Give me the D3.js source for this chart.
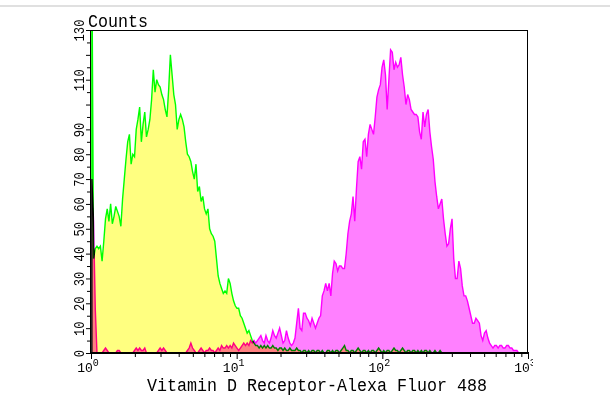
<!DOCTYPE html>
<html>
<head>
<meta charset="utf-8">
<script src="https://cdn.jsdelivr.net/npm/d3@7/dist/d3.min.js"></script>
<style>
    body { margin: 0; background: #fff; }
    svg { display: block; }
</style>
</head>
<body>
<script>
// histogram binning: 256 channels over 3 log decades
const CHANNELS = 256;
const DECADES = 3;

// yellow / green outline (control)
const controlStart = 0;
const controlCounts = [
    160, 38, 42, 43, 42, 43, 37, 45, 54, 58,
    53, 60, 52, 55, 59, 57, 55, 51, 62, 70,
    78, 85, 88, 76, 80, 79, 90, 94, 99, 85,
    92, 97, 87, 90, 94, 102, 114, 105, 110, 108,
    107, 104, 102, 98, 95, 106, 120, 112, 104, 100,
    90, 94, 96, 94, 91, 85, 80, 79, 77, 73,
    70, 76, 65, 67, 61, 63, 58, 56, 58, 50,
    48, 47, 45, 38, 31, 28, 26, 24, 25, 24,
    30, 28, 24, 21, 19, 18, 18, 15, 14, 12,
    10, 8, 9, 7, 5, 4, 3, 3, 2, 3,
    2, 3, 2, 3, 2, 2, 3, 2, 2, 1,
    2, 2, 1, 2, 1, 1, 2, 1, 1, 1,
    2, 1, 1, 0, 1, 1, 0, 1, 0, 1,
    1, 0, 1, 1, 0, 1, 0, 0, 1, 1,
    0, 1, 0, 1, 1, 0, 1, 2, 3, 1,
    1, 0, 1, 1, 0, 1, 2, 1, 0, 1,
    1, 0, 1, 0, 1, 1, 0, 1, 2, 1,
    0, 1, 0, 1, 1, 0, 1, 2, 1, 1,
    0, 1, 2, 1, 0, 1, 1, 0, 1, 1,
    0, 1, 0, 1, 0, 1, 1, 0, 1, 0,
    0, 1, 0, 0, 1, 0, 0
];

// magenta (Vitamin D Receptor stained)
const vdrStart = 0;
const vdrCounts = [
    70, 53, 18, 0, 0, 0, 0, 1, 2, 1,
    0, 0, 0, 0, 0, 1, 1, 0, 0, 0,
    0, 0, 0, 0, 0, 1, 2, 1, 2, 1,
    1, 2, 0, 0, 0, 0, 0, 0, 0, 1,
    2, 1, 2, 1, 0, 0, 0, 0, 0, 0,
    0, 0, 0, 0, 0, 0, 1, 2, 4, 2,
    1, 0, 0, 1, 2, 1, 0, 1, 1, 2,
    1, 1, 0, 1, 2, 1, 3, 2, 2, 3,
    2, 3, 2, 4, 3, 2, 1, 2, 3, 4,
    3, 4, 3, 5, 4, 5, 4, 5, 6, 7,
    5, 4, 7, 5, 4, 6, 9, 7, 6, 8,
    10, 7, 4, 5, 9, 6, 4, 3, 4, 6,
    12, 18, 10, 9, 16, 16, 14, 13, 11, 14,
    12, 10, 12, 14, 15, 23, 25, 28, 25, 28,
    23, 32, 37, 36, 33, 35, 35, 34, 34, 40,
    48, 53, 56, 63, 53, 66, 77, 79, 74, 85,
    86, 79, 88, 92, 90, 88, 95, 103, 106, 108,
    115, 118, 112, 98, 110, 122, 121, 114, 117, 115,
    116, 119, 112, 107, 100, 104, 102, 98, 97, 96,
    96, 95, 89, 86, 97, 91, 96, 98, 89, 83,
    78, 69, 63, 58, 60, 62, 54, 48, 43, 44,
    50, 54, 38, 30, 30, 37, 34, 27, 23, 23,
    21, 18, 15, 12, 12, 14, 13, 12, 7, 5,
    8, 9, 6, 4, 3, 2, 3, 3, 2, 3,
    3, 2, 2, 3, 3, 2, 2, 1, 1, 1,
    0
];

const yTicks = [0, 10, 20, 30, 40, 50, 60, 70, 80, 90, 100, 110, 120, 130];
const yTickLabels = ["0", "10", "20", "30", "40", "50", "60", "70", "80", "90", "", "110", "", "130"];
const xTicks = [1, 10, 100, 1000];
const xTickExponents = ["0", "1", "2", "3"];

const y_title = "Counts";
const x_title = "Vitamin D Receptor-Alexa Fluor 488";

const width = 610;
const height = 396;
const font = "'Liberation Mono', 'DejaVu Sans Mono', monospace";

const svg = d3.select("body")
    .append("svg")
    .attr("width", width)
    .attr("height", height);

// page border strip at the top
svg.append("rect")
    .attr("x", 0).attr("y", 5)
    .attr("width", width).attr("height", 2)
    .attr("fill", "#e0e0e0");

const x = d3.scaleLog().domain([1, 1000]).range([91, 528]);
const y = d3.scaleLinear().domain([0, 130]).range([353, 30]);

const chan_to_value = c => Math.pow(10, DECADES * (c + 0.5) / CHANNELS);

function to_points(start, counts) {
    const pts = counts.map((v, i) => [x(chan_to_value(start + i)), y(v)]);
    pts.unshift([pts[0][0], y(0)]);
    pts.push([pts[pts.length - 1][0], y(0)]);
    return pts;
}

svg.append("clipPath").attr("id", "plot-clip")
    .append("rect")
    .attr("x", x(1)).attr("y", y(130))
    .attr("width", x(1000) - x(1)).attr("height", y(0) - y(130));

const plot = svg.append("g").attr("clip-path", "url(#plot-clip)");

const area = d3.area().x(d => d[0]).y0(y(0)).y1(d => d[1]);
const line = d3.line();

const series = [
    { pts: to_points(controlStart, controlCounts), fill: "#ffff80", stroke: "#00ff00" },
    { pts: to_points(vdrStart, vdrCounts), fill: "#ff80ff", stroke: "#ff00ff" },
];

series.forEach(s => {
    plot.append("path")
        .attr("d", area(s.pts))
        .attr("fill", s.fill)
        .style("mix-blend-mode", "multiply");
});
series.forEach(s => {
    plot.append("path")
        .attr("d", line(s.pts))
        .attr("fill", "none")
        .attr("stroke", s.stroke)
        .attr("stroke-width", 1.4)
        .style("mix-blend-mode", "multiply");
});

// frame
svg.append("rect")
    .attr("x", x(1) - 0.5).attr("y", y(130) + 0.5)
    .attr("width", x(1000) - x(1)).attr("height", y(0) - y(130))
    .attr("fill", "none")
    .attr("stroke", "#000")
    .attr("stroke-width", 1);

svg.append("line")
    .attr("x1", x(1) - 1).attr("x2", x(1000) + 1)
    .attr("y1", y(0)).attr("y2", y(0))
    .attr("stroke", "#000").attr("stroke-width", 2);

// y axis
const y_axis = svg.append("g")
    .attr("transform", `translate(${x(1) - 1},0)`)
    .call(d3.axisLeft(y).tickValues(yTicks).tickSize(4).tickFormat((d, i) => yTickLabels[i]));

y_axis.select(".domain").remove();
y_axis.selectAll("line").attr("stroke", "#000");
y_axis.selectAll("text")
    .attr("transform", "rotate(-90)")
    .attr("x", 0)
    .attr("y", -6)
    .attr("dy", null)
    .attr("text-anchor", "middle")
    .attr("fill", "#000")
    .style("font-family", font)
    .style("font-size", "14px")
    .each(function () {
        const t = d3.select(this).text();
        if (t.length) d3.select(this).attr("textLength", t.length * 7.3).attr("lengthAdjust", "spacingAndGlyphs");
    });

const y_minor = yTicks.slice(0, -1).map(v => v + 5);
const y_axis_minor = svg.append("g")
    .attr("transform", `translate(${x(1) - 1},0)`)
    .call(d3.axisLeft(y).tickValues(y_minor).tickSize(3).tickFormat(""));
y_axis_minor.select(".domain").remove();

// x axis
const x_minor = [];
xTicks.slice(0, -1).forEach(d => { for (let k = 2; k <= 9; k++) x_minor.push(d * k); });

const x_axis = svg.append("g")
    .attr("transform", `translate(0,${y(0)})`)
    .call(d3.axisBottom(x).tickValues(xTicks).tickSize(6).tickFormat(""));
x_axis.select(".domain").remove();

const x_axis_minor = svg.append("g")
    .attr("transform", `translate(0,${y(0)})`)
    .call(d3.axisBottom(x).tickValues(x_minor).tickSize(4).tickFormat(""));
x_axis_minor.select(".domain").remove();

svg.append("clipPath").attr("id", "label-clip")
    .append("rect").attr("x", 0).attr("y", 0).attr("width", 533).attr("height", height);

const x_labels = svg.append("g").attr("clip-path", "url(#label-clip)")
    .selectAll("text")
    .data(xTicks)
    .enter()
    .append("text")
    .attr("x", d => x(d) - 3)
    .attr("y", 372)
    .attr("text-anchor", "middle")
    .style("font-family", font)
    .style("font-size", "13px");

x_labels.append("tspan").text("10");
x_labels.append("tspan")
    .attr("dy", -6)
    .style("font-size", "10px")
    .text((d, i) => xTickExponents[i]);

// titles
svg.append("text")
    .attr("x", 88).attr("y", 27)
    .attr("textLength", 60).attr("lengthAdjust", "spacingAndGlyphs")
    .style("font-family", font)
    .style("font-size", "19px")
    .text(y_title);

svg.append("text")
    .attr("x", 147).attr("y", 391)
    .attr("textLength", 340).attr("lengthAdjust", "spacingAndGlyphs")
    .style("font-family", font)
    .style("font-size", "19px")
    .text(x_title);
</script>
</body>
</html>
